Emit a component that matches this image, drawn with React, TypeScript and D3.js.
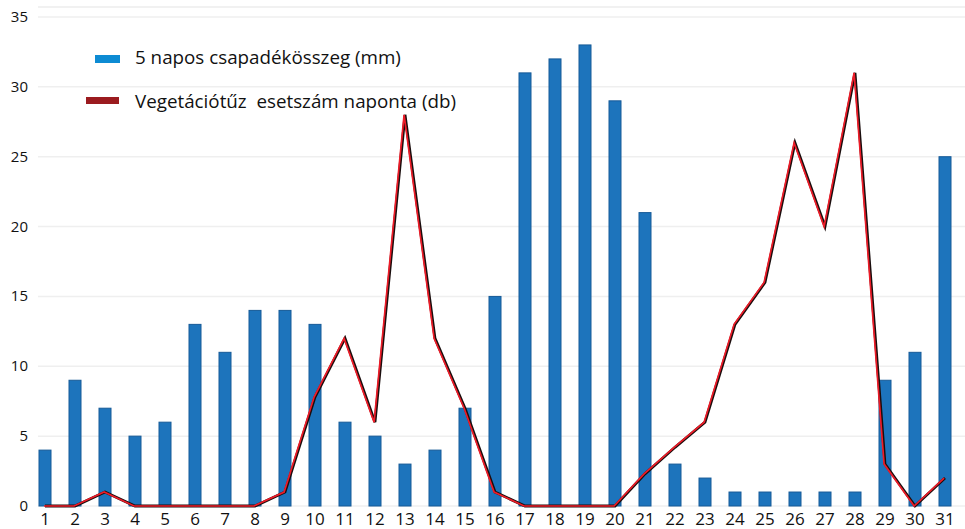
import React from "react";
import * as d3 from "d3";

const days = d3.range(1, 32);
const rain = [4, 9, 7, 5, 6, 13, 11, 14, 14, 13, 6, 5, 3, 4, 7, 15, 31, 32, 33, 29, 21, 3, 2, 1, 1, 1, 1, 1, 9, 11, 25];
const fires = [0, 0, 1, 0, 0, 0, 0, 0, 1, 7.8, 12, 6, 28, 12, 7, 1, 0, 0, 0, 0, 2.3, 4.2, 6, 13, 16, 26, 20, 31, 3, 0, 2];
const yTicks = [0, 5, 10, 15, 20, 25, 30, 35];
const legendRain = "5 napos csapadékösszeg (mm)";
const legendFire = "Vegetációtűz  esetszám naponta (db)";

const W = 965;
const H = 529;
const FONT = "'Open Sans', 'Noto Sans', sans-serif";

export default function App() {
  const x = d3.scaleLinear().domain([1, 31]).range([45, 945]);
  const y = d3.scaleLinear().domain([0, 35]).range([506, 17]);
  const barW = 12;
  const line = d3
    .line<number>()
    .x((_, i) => x(days[i]))
    .y((v) => y(v));
  const path = line(fires) || "";

  return (
    <svg
      width={W}
      height={H}
      style={{ position: "absolute", left: 0, top: 0, background: "#fff" }}
    >
      <line x1={38} x2={W} y1={7} y2={7} stroke="#ececec" strokeWidth={1.5} />
      {yTicks.map((t) => (
        <g key={t}>
          <line x1={38} x2={W} y1={y(t)} y2={y(t)} stroke="#efefef" strokeWidth={1.5} />
          <text
            x={28}
            y={y(t) + 5}
            textAnchor="end"
            fontFamily={FONT}
            fontSize={15}
            fill="#111"
          >
            {t}
          </text>
        </g>
      ))}
      {days.map((d, i) => (
        <rect
          key={d}
          x={x(d) - barW / 2}
          y={y(rain[i])}
          width={barW}
          height={y(0) - y(rain[i])}
          fill="#1d74bc"
          stroke="#165a97"
          strokeWidth={1}
        />
      ))}
      <path d={path} fill="none" stroke="#1a0d0d" strokeWidth={2.8} strokeLinejoin="miter" />
      <path
        d={path}
        fill="none"
        stroke="#ee1c28"
        strokeWidth={1.7}
        transform="translate(-0.9,0)"
      />
      {days.map((d) => (
        <text
          key={d}
          x={x(d)}
          y={525}
          textAnchor="middle"
          fontFamily={FONT}
          fontSize={17}
          fill="#111"
        >
          {d}
        </text>
      ))}
      <rect x={95} y={55} width={25} height={8} fill="#0d8bd3" />
      <text x={135} y={64} fontFamily={FONT} fontSize={18.8} fill="#111">
        {legendRain}
      </text>
      <rect x={86} y={97} width={33} height={7} fill="#9b1b1f" />
      <text x={135} y={108} fontFamily={FONT} fontSize={18.8} fill="#111" style={{ whiteSpace: "pre" }}>
        {legendFire}
      </text>
    </svg>
  );
}
